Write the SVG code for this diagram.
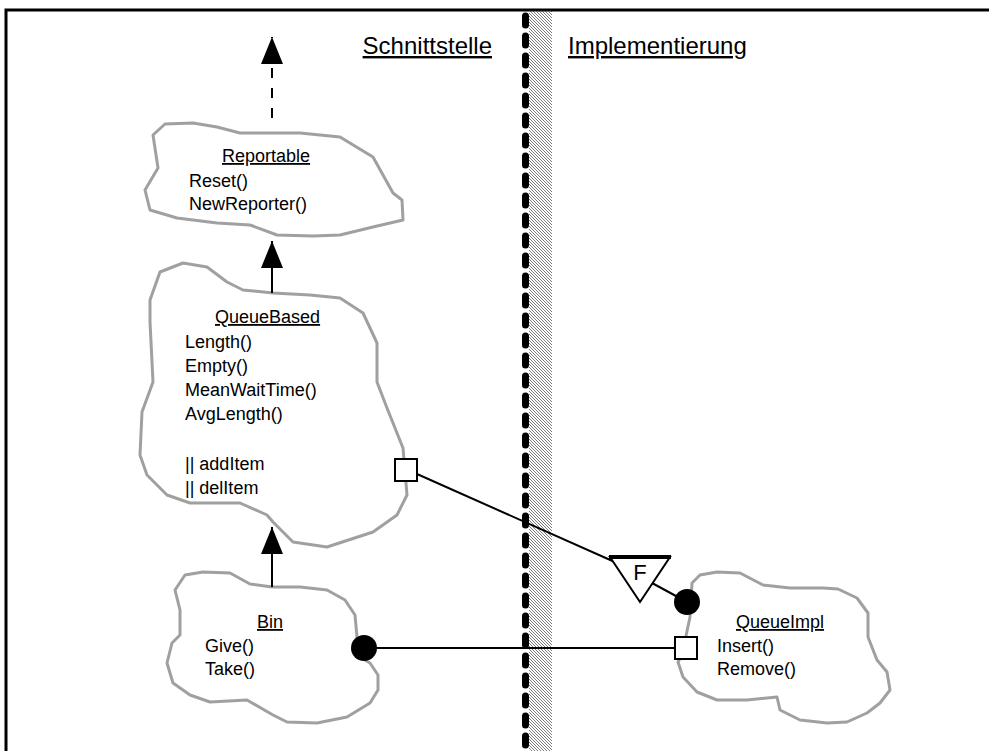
<svg xmlns="http://www.w3.org/2000/svg" width="989" height="751" viewBox="0 0 989 751">
<style>
text{font-family:"Liberation Sans",Arial,sans-serif;fill:#000}
.t{font-size:18px}
.h{font-size:24px;text-decoration:underline}
.u{text-decoration:underline}
.cloud{fill:#fff;stroke:#a0a0a0;stroke-width:3;stroke-linejoin:round}
.cl{stroke:#000;stroke-width:2;fill:none}
.dash{stroke-dasharray:10 10}
</style>
<defs>
<pattern id="hatch" patternUnits="userSpaceOnUse" width="3" height="3">
<path d="M0,0L3,3M-1,2L1,4M2,-1L4,1" stroke="#222" stroke-width="0.6"/>
</pattern>
<marker id="arr" markerUnits="userSpaceOnUse" markerWidth="28" markerHeight="22" refX="27" refY="11" orient="auto" viewBox="0 0 28 22">
<path d="M0,0L27,11L0,22z" fill="#000"/>
</marker>
</defs>
<rect width="989" height="751" fill="#fff"/>
<path d="M6,752V10H990" fill="none" stroke="#000" stroke-width="3"/>
<g id="divider">
<rect x="529" y="10" width="23" height="741" fill="url(#hatch)"/>
<line x1="525.5" y1="16" x2="525.5" y2="751" stroke="#000" stroke-width="7" stroke-linecap="round" stroke-dasharray="9 11"/>
<text class="h" x="492" y="54" text-anchor="end">Schnittstelle</text>
<text class="h" x="568" y="54">Implementierung</text>
</g>
<g id="reportable">
<path class="cloud" d="M165,124L153,135L158,168L145,190L150,210L177,218L217,223L250,225L277,235L313,236L340,235L373,227L403,220L402,200L393,193L373,157L340,137L300,133L240,133L217,127L193,123Z"/>
<text class="t u" x="222" y="162">Reportable</text>
<text class="t" x="189" y="187">Reset()</text>
<text class="t" x="189" y="210">NewReporter()</text>
</g>
<g id="queuebased">
<path class="cloud" d="M150,300L160,272L183,263L207,267L227,282L243,290L273,293L310,295L340,298L363,313L377,343L377,382L387,408L403,448L407,495L397,515L373,532L327,547L293,542L273,522L267,515L240,503L190,503L167,495L147,475L140,455L142,412L153,382L150,322Z"/>
<text class="t u" x="215" y="323">QueueBased</text>
<text class="t" x="185" y="348">Length()</text>
<text class="t" x="185" y="372">Empty()</text>
<text class="t" x="185" y="396">MeanWaitTime()</text>
<text class="t" x="185" y="420">AvgLength()</text>
<text class="t" x="185" y="470">|| addItem</text>
<text class="t" x="185" y="494">|| delItem</text>
</g>
<g id="bin">
<path class="cloud" d="M175,590L185,575L203,572L230,573L250,584L272,587L300,587L327,590L345,600L355,615L357,637L360,657L370,663L378,675L378,690L370,703L347,717L317,723L287,722L273,715L247,700L210,702L190,695L173,683L167,663L172,643L180,635L180,610Z"/>
<text class="t u" x="257" y="628">Bin</text>
<text class="t" x="205" y="652">Give()</text>
<text class="t" x="205" y="675">Take()</text>
</g>
<g id="queueimpl">
<path class="cloud" d="M690,617L692,583L700,575L717,572L740,573L763,585L790,588L823,588L838,589L857,598L868,613L868,637L877,660L887,672L890,690L880,703L867,713L847,722L827,723L800,720L780,710L777,697L747,700L717,700L697,692L683,677L678,662L682,655Z"/>
<text class="t u" x="736" y="628">QueueImpl</text>
<text class="t" x="717" y="652">Insert()</text>
<text class="t" x="717" y="675">Remove()</text>
</g>
<g id="connectors">
<line class="cl dash" x1="272" y1="118" x2="272" y2="37" marker-end="url(#arr)"/>
<line class="cl" x1="272" y1="293" x2="272" y2="241" marker-end="url(#arr)"/>
<line class="cl" x1="272" y1="587" x2="272" y2="527" marker-end="url(#arr)"/>
<line class="cl" x1="417" y1="474" x2="617" y2="563"/>
<line class="cl" x1="652" y1="583" x2="687" y2="602"/>
<line class="cl" x1="364" y1="648" x2="674" y2="648"/>
<rect x="395" y="459" width="22" height="22" fill="#fff" stroke="#000" stroke-width="2"/>
<rect x="675" y="637" width="22" height="22" fill="#fff" stroke="#000" stroke-width="2"/>
<circle cx="364" cy="648" r="13" fill="#000"/>
<circle cx="687" cy="602" r="13" fill="#000"/>
<path d="M610,557L670,557L640,602Z" fill="#fff" stroke="#000" stroke-width="2" stroke-linejoin="miter"/>
<line x1="609" y1="557" x2="671" y2="557" stroke="#000" stroke-width="4"/>
<text x="640" y="580" font-size="22" text-anchor="middle">F</text>
</g>
</svg>
